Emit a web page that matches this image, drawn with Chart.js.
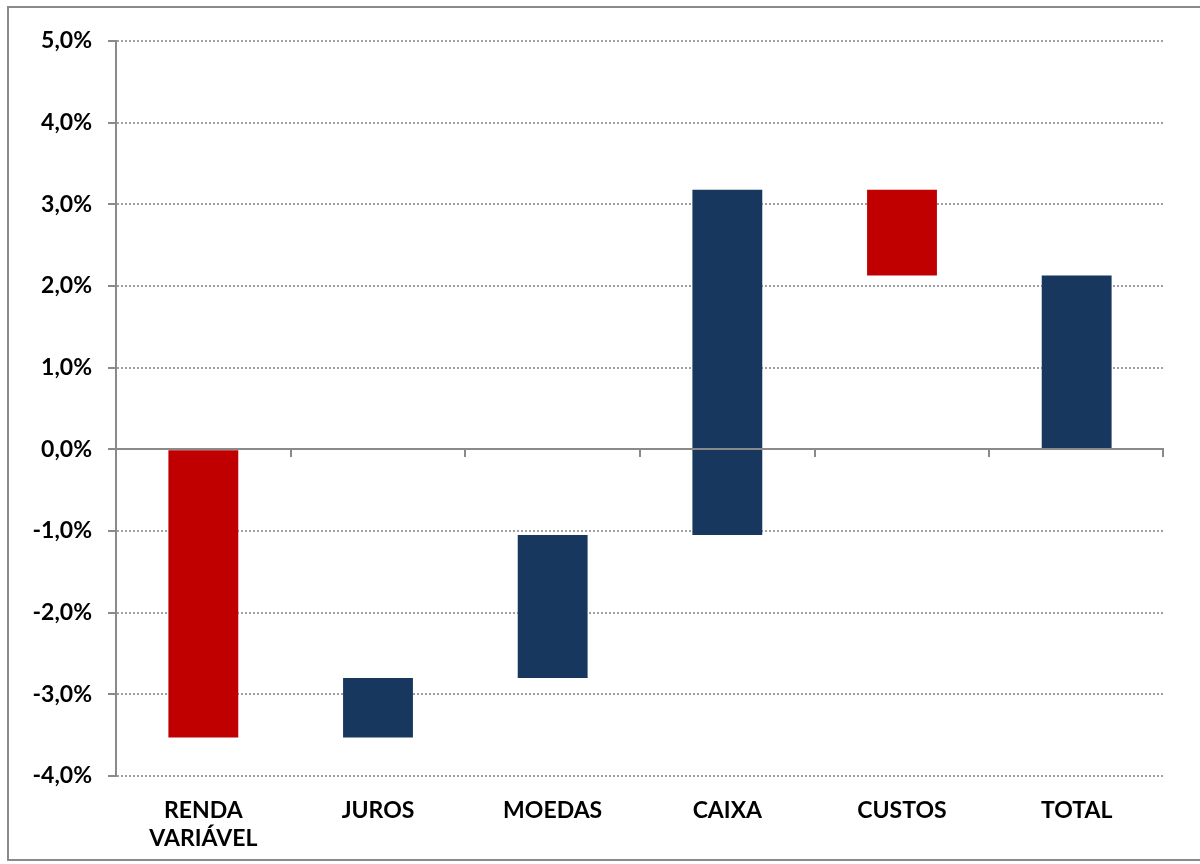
<!DOCTYPE html>
<html>
<head>
<meta charset="utf-8">
<script src="https://cdn.jsdelivr.net/npm/chart.js@4/dist/chart.umd.min.js"></script>
<style>
  html, body { margin: 0; padding: 0; background: #fff; }
  #wrap { position: relative; width: 1200px; height: 864px; overflow: hidden; }
  #c { position: absolute; left: 0; top: 0; }
  #frame { position: absolute; left: 7px; top: 6px; width: 1210px; height: 851px;
           border: 2px solid #8a8a8a; pointer-events: none; }
</style>
</head>
<body>
<div id="wrap">
  <canvas id="c" width="1200" height="864"></canvas>
  <div id="frame"></div>
</div>
<script>
// ---- data ----
const categories = [['RENDA', 'VARIÁVEL'], 'JUROS', 'MOEDAS', 'CAIXA', 'CUSTOS', 'TOTAL'];
const barStart = [0, -3.53, -2.80, -1.05, 3.18, 0];
const barEnd   = [-3.53, -2.80, -1.05, 3.18, 2.13, 2.13];
const yMin = -4, yMax = 5, yStep = 1;

const RED = '#C00000', NAVY = '#17375E';
const FONT = { family: 'Lato, "Open Sans", sans-serif', size: 23, weight: 'bold' };

const zeroAxis = {
  id: 'zeroAxis',
  afterDatasetsDraw(chart) {
    const ctx = chart.ctx, xs = chart.scales.x, ys = chart.scales.y;
    const y = Math.round(ys.getPixelForValue(0));
    const { left, right } = chart.chartArea;
    ctx.save();
    ctx.strokeStyle = '#8a8a8a';
    ctx.lineWidth = 2;
    ctx.beginPath();
    ctx.moveTo(left, y); ctx.lineTo(right, y);
    const n = categories.length;
    for (let i = 0; i < n; i++) {
      const bx = i < n - 1 ? Math.round((xs.getPixelForValue(i) + xs.getPixelForValue(i + 1)) / 2) : right - 1;
      ctx.moveTo(bx, y); ctx.lineTo(bx, y + 8);
    }
    ctx.stroke();
    ctx.restore();
  }
};

new Chart(document.getElementById('c'), {
  type: 'bar',
  data: {
    labels: categories,
    datasets: [{
      data: barStart.map((s, i) => [s, barEnd[i]]),
      backgroundColor: barStart.map((s, i) => barEnd[i] < s ? RED : NAVY),
      borderWidth: 0,
      borderSkipped: false,
      categoryPercentage: 1,
      barPercentage: 0.4
    }]
  },
  options: {
    responsive: false,
    animation: false,
    devicePixelRatio: 1,
    layout: { padding: { top: 41, right: 36, left: 0, bottom: 0 } },
    plugins: { legend: { display: false }, tooltip: { enabled: false }, title: { display: false } },
    scales: {
      x: {
        grid: { display: false },
        border: { display: false },
        ticks: { font: FONT, color: '#000', padding: 13, maxRotation: 0, autoSkip: false },
        afterFit(s) { s.height = 88; }
      },
      y: {
        min: yMin, max: yMax,
        ticks: {
          stepSize: yStep, font: FONT, color: '#000', padding: 16,
          callback: v => v.toFixed(1).replace('.', ',') + '%'
        },
        grid: {
          color: ctx => (ctx.tick && ctx.tick.value === 0) ? 'rgba(0,0,0,0)' : '#a0a0a0',
          lineWidth: 2,
          tickColor: '#8a8a8a',
          tickLength: 8,
          tickWidth: 2
        },
        border: { display: true, color: '#8a8a8a', width: 2, dash: [2, 2] },
        afterFit(s) { s.width = 116; }
      }
    }
  },
  plugins: [zeroAxis]
});
</script>
</body>
</html>
